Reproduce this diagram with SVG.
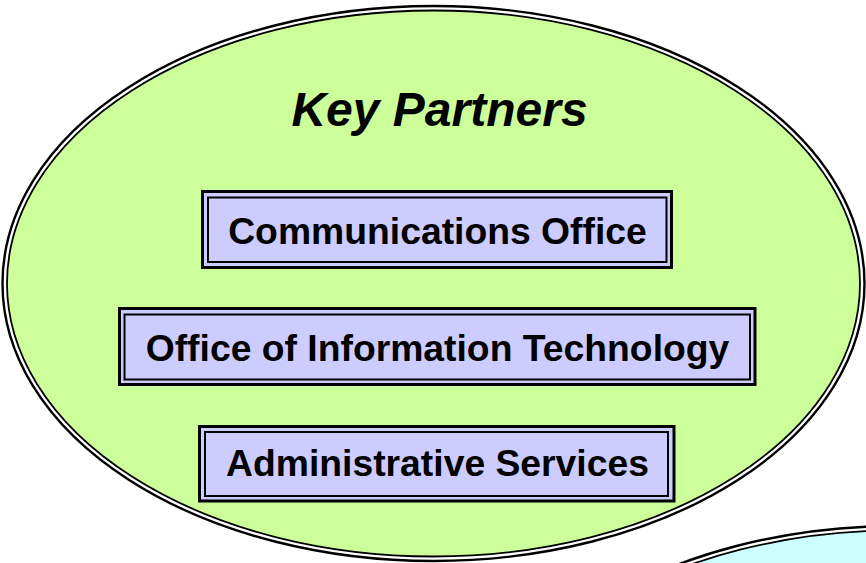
<svg xmlns="http://www.w3.org/2000/svg" width="866" height="563" viewBox="0 0 866 563">
<style>
.ell-out{fill:none;stroke:#000;stroke-width:2.4}
.ell-in{stroke:#000;stroke-width:1.8}
.green{fill:#CCFF99}
.cyan{fill:#CCFFFF}
.box-out{fill:#CCCCFF;stroke:#000;stroke-width:3}
.box-in{fill:none;stroke:#000;stroke-width:2}
.lbl{font-family:"Liberation Sans",Arial,sans-serif;font-weight:bold;font-size:37.3px;fill:#000;text-anchor:middle}
.title{font-family:"Liberation Sans",Arial,sans-serif;font-weight:bold;font-style:italic;font-size:48px;fill:#000;text-anchor:middle}
</style>
<rect width="866" height="563" fill="#fff"/>
<g id="key-partners">
<ellipse cx="433.5" cy="283.5" rx="431" ry="277.5" class="ell-out"/>
<ellipse cx="433.5" cy="283.5" rx="426.5" ry="273" class="ell-in green"/>
<text class="title" x="439.5" y="126">Key Partners</text>
</g>
<g id="other-area">
<ellipse cx="897" cy="804" rx="431" ry="278" class="ell-out"/>
<ellipse cx="897" cy="804" rx="426.5" ry="273.5" class="ell-in cyan"/>
</g>
<g id="communications-office">
<rect class="box-out" x="202.5" y="191.5" width="469" height="76"/>
<rect class="box-in" x="208" y="197.5" width="458.5" height="64.5"/>
<text class="lbl" x="437.5" y="244">Communications Office</text>
</g>
<g id="office-of-information-technology">
<rect class="box-out" x="119.5" y="308.5" width="635.5" height="76"/>
<rect class="box-in" x="124.5" y="314.5" width="625.5" height="65"/>
<text class="lbl" x="437.5" y="361">Office of Information Technology</text>
</g>
<g id="administrative-services">
<rect class="box-out" x="199.5" y="426.5" width="474.5" height="74.5"/>
<rect class="box-in" x="205" y="432" width="463" height="64"/>
<text class="lbl" x="437.5" y="476">Administrative Services</text>
</g>
<g id="connectors"></g>
</svg>
